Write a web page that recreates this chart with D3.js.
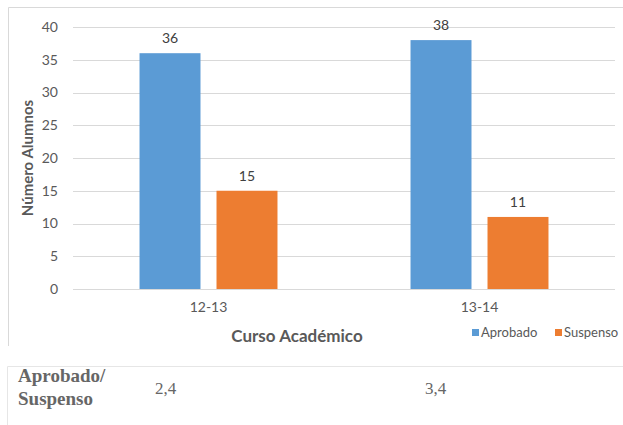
<!DOCTYPE html>
<html><head><meta charset="utf-8">
<script src="https://cdn.jsdelivr.net/npm/d3@7"></script>
<style>body{margin:0;background:#fff}svg{display:block}</style>
</head><body>
<svg id="c" width="623" height="425"></svg>
<script>
const categories = ["12-13", "13-14"];
const seriesNames = ["Aprobado", "Suspenso"];
const aprobado = [36, 38];
const suspenso = [15, 11];
const yTicks = [0, 5, 10, 15, 20, 25, 30, 35, 40];
const ratioLabel = ["Aprobado/", "Suspenso"];
const ratios = ["2,4", "3,4"];
const colors = ["#5b9bd5", "#ed7d31"];

const svg = d3.select("#c");
const font = "Lato, 'Open Sans', sans-serif";
const grey = "#595959";

// chart border
svg.append("path").attr("d", "M8.5,346V7.5H623").attr("fill", "none").attr("stroke", "#d9d9d9");

const x0 = d3.scaleBand().domain(categories).range([73, 615]);
const x1 = d3.scaleBand().domain(seriesNames).range([0, x0.bandwidth()]).paddingInner(0.208).paddingOuter(0.864);
const y = d3.scaleLinear().domain([0, 40]).range([289, 27]);

// gridlines
svg.append("g").selectAll("line").data(yTicks).join("line")
  .attr("x1", 73).attr("x2", 615)
  .attr("y1", d => Math.round(y(d)) + 0.5).attr("y2", d => Math.round(y(d)) + 0.5)
  .attr("stroke", "#d9d9d9").attr("stroke-width", 1);

// y axis labels
const yAxis = svg.append("g").attr("transform", "translate(64,0)")
  .call(d3.axisLeft(y).tickValues(yTicks).tickSize(0).tickPadding(6));
yAxis.select(".domain").remove();
yAxis.selectAll("text").attr("font-family", font).attr("font-size", 14).attr("fill", grey);

// x axis labels
const xAxis = svg.append("g").attr("transform", "translate(0,297)")
  .call(d3.axisBottom(x0).tickSize(0).tickPadding(5));
xAxis.select(".domain").remove();
xAxis.selectAll("text").attr("font-family", font).attr("font-size", 14).attr("fill", grey);

// bars
const seriesData = [aprobado, suspenso];
seriesNames.forEach((s, si) => {
  const g = svg.append("g");
  g.selectAll("rect").data(categories).join("rect")
    .attr("x", c => x0(c) + x1(s))
    .attr("y", (c, i) => y(seriesData[si][i]))
    .attr("width", x1.bandwidth())
    .attr("height", (c, i) => y(0) - y(seriesData[si][i]))
    .attr("fill", colors[si]);
  g.selectAll("text").data(categories).join("text")
    .attr("x", c => x0(c) + x1(s) + x1.bandwidth() / 2)
    .attr("y", (c, i) => y(seriesData[si][i]) - 10)
    .attr("text-anchor", "middle")
    .attr("font-family", font).attr("font-size", 14).attr("fill", "#404040")
    .text((c, i) => seriesData[si][i]);
});

// axis titles
svg.append("text").attr("transform", "translate(33,158) rotate(-90)")
  .attr("text-anchor", "middle").attr("font-family", font).attr("font-size", 15)
  .attr("font-weight", "bold").attr("fill", grey).text("Número Alumnos");
svg.append("text").attr("x", 297).attr("y", 342)
  .attr("text-anchor", "middle").attr("font-family", font).attr("font-size", 17)
  .attr("font-weight", "bold").attr("fill", grey).text("Curso Académico");

// legend
const legX = [472, 555];
seriesNames.forEach((s, i) => {
  svg.append("rect").attr("x", legX[i]).attr("y", 329).attr("width", 7).attr("height", 7).attr("fill", colors[i]);
  svg.append("text").attr("x", legX[i] + 9).attr("y", 337)
    .attr("font-family", font).attr("font-size", 13).attr("fill", grey).text(s);
});

// table below
svg.append("path").attr("d", "M7.5,425V366.5H623").attr("fill", "none").attr("stroke", "#e6e6e6");
const tfont = "'Liberation Serif', 'Times New Roman', serif";
ratioLabel.forEach((t, i) => {
  svg.append("text").attr("x", 18).attr("y", 382 + i * 23)
    .attr("font-family", tfont).attr("font-size", 19).attr("font-weight", "bold")
    .attr("fill", "#666").text(t);
});
const ratioX = [155, 425];
ratios.forEach((r, i) => {
  svg.append("text").attr("x", ratioX[i]).attr("y", 394)
    .attr("font-family", tfont).attr("font-size", 17).attr("fill", "#666").text(r);
});
</script>
</body></html>
